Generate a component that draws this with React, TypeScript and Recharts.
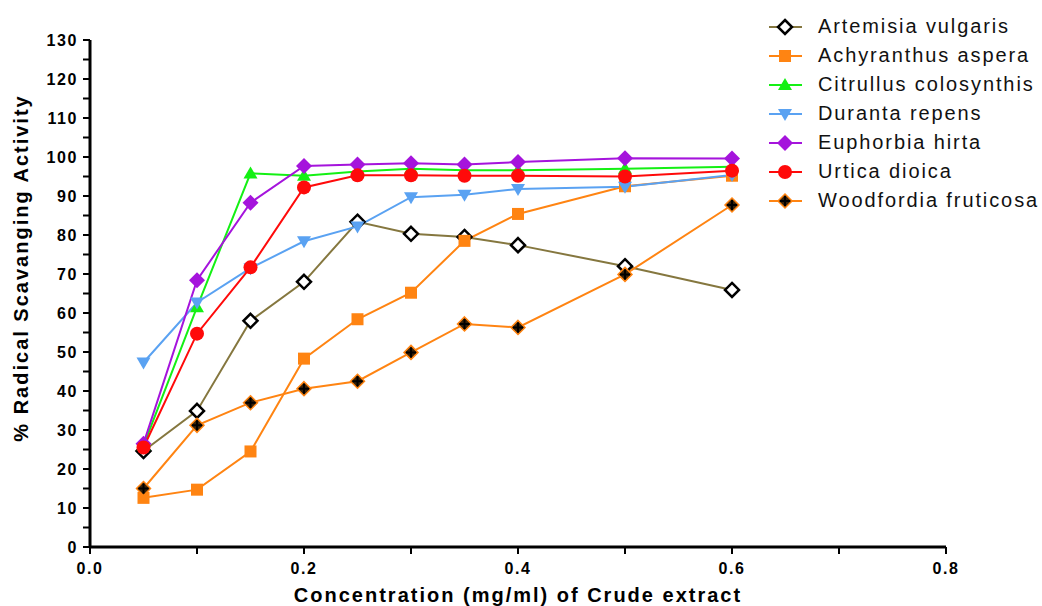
import React from 'react'
import { LineChart, Line, XAxis, YAxis, Legend, Label } from 'recharts'

const concentrations = [0.05, 0.1, 0.15, 0.2, 0.25, 0.3, 0.35, 0.4, 0.5, 0.6]

const artemisia = [24.6, 34.9, 58, 68, 83.4, 80.3, 79.5, 77.4, 72, 65.9]
const achyranthus = [12.6, 14.7, 24.5, 48.3, 58.4, 65.2, 78.5, 85.4, 92.5, 95.2]
const citrullus = [26, 61.5, 95.8, 95.2, 96.3, 97, 96.6, 96.6, 97, 97.5]
const duranta = [47.3, 62.7, 71.5, 78.4, 82.2, 89.7, 90.3, 91.8, 92.4, 95.4]
const euphorbia = [26.5, 68.4, 88.3, 97.7, 98.1, 98.4, 98.1, 98.7, 99.7, 99.6]
const urtica = [25.5, 54.7, 71.7, 92.2, 95.3, 95.3, 95.2, 95.2, 95.0, 96.5]
const woodfordia = [15, 31.2, 37, 40.6, 42.5, 49.9, 57.2, 56.3, 69.9, 87.7]

const xTicks = [0, 0.1, 0.2, 0.3, 0.4, 0.5, 0.6, 0.7, 0.8]
const yTicks = [0, 5, 10, 15, 20, 25, 30, 35, 40, 45, 50, 55, 60, 65, 70, 75, 80, 85, 90, 95, 100, 105, 110, 115, 120, 125, 130]

type Kind = 'hollowDiamond' | 'square' | 'triUp' | 'triDown' | 'diamond' | 'circle' | 'crossDiamond'

const series: { key: string; name: string; color: string; kind: Kind; values: number[] }[] = [
  { key: 'a', name: 'Artemisia vulgaris', color: '#85773f', kind: 'hollowDiamond', values: artemisia },
  { key: 'b', name: 'Achyranthus aspera', color: '#ff8412', kind: 'square', values: achyranthus },
  { key: 'c', name: 'Citrullus colosynthis', color: '#14f014', kind: 'triUp', values: citrullus },
  { key: 'd', name: 'Duranta repens', color: '#5aa2f2', kind: 'triDown', values: duranta },
  { key: 'e', name: 'Euphorbia hirta', color: '#a514dc', kind: 'diamond', values: euphorbia },
  { key: 'f', name: 'Urtica dioica', color: '#ff0a0a', kind: 'circle', values: urtica },
  { key: 'g', name: 'Woodfordia fruticosa', color: '#ff8412', kind: 'crossDiamond', values: woodfordia },
]

const data = concentrations.map((x, i) => {
  const row: Record<string, number> = { x }
  series.forEach(s => { row[s.key] = s.values[i] })
  return row
})

function Marker({ kind, cx, cy, color }: { kind: Kind; cx: number; cy: number; color: string }) {
  switch (kind) {
    case 'hollowDiamond':
      return <path d={`M${cx},${cy - 7} L${cx + 7},${cy} L${cx},${cy + 7} L${cx - 7},${cy} Z`} fill="#fff" stroke="#000" strokeWidth={2.5} />
    case 'square':
      return <rect x={cx - 6} y={cy - 6} width={12} height={12} fill={color} />
    case 'triUp':
      return <path d={`M${cx},${cy - 7} L${cx + 7},${cy + 5} L${cx - 7},${cy + 5} Z`} fill={color} />
    case 'triDown':
      return <path d={`M${cx},${cy + 7} L${cx + 7},${cy - 5} L${cx - 7},${cy - 5} Z`} fill={color} />
    case 'diamond':
      return <path d={`M${cx},${cy - 8} L${cx + 8},${cy} L${cx},${cy + 8} L${cx - 8},${cy} Z`} fill={color} />
    case 'circle':
      return <circle cx={cx} cy={cy} r={7} fill={color} />
    case 'crossDiamond':
      return (
        <g>
          <path d={`M${cx},${cy - 7} L${cx + 7},${cy} L${cx},${cy + 7} L${cx - 7},${cy} Z`} fill="#3a2208" stroke={color} strokeWidth={1.5} />
          <path d={`M${cx - 5},${cy} L${cx + 5},${cy} M${cx},${cy - 5} L${cx},${cy + 5}`} stroke="#000" strokeWidth={2} />
        </g>
      )
  }
  return null
}

const font = 'Liberation Sans, Arial, sans-serif'
const tickStyle = { fontFamily: font, fontWeight: 700, fontSize: 16, fill: '#000', letterSpacing: 1.6 }
const titleStyle = { fontFamily: font, fontWeight: 700, fontSize: 20, fill: '#000', letterSpacing: 2 }

const LegendBox = () => (
  <div style={{ fontFamily: font, fontSize: 20, letterSpacing: 1.9, color: '#111' }}>
    {series.map(s => (
      <div key={s.key} style={{ display: 'flex', alignItems: 'center', height: 29 }}>
        <svg width={50} height={20}>
          <line x1={1} y1={10} x2={34} y2={10} stroke={s.color} strokeWidth={2} />
          <Marker kind={s.kind} cx={17} cy={10} color={s.color} />
        </svg>
        <span style={{ whiteSpace: 'nowrap' }}>{s.name}</span>
      </div>
    ))}
  </div>
)

const YTitle = () => (
  <text transform="translate(21,268) rotate(-90)" textAnchor="middle" dominantBaseline="central" style={titleStyle}>
    % Radical Scavanging Activity
  </text>
)

export default function App() {
  return (
    <div style={{ position: 'absolute', left: 0, top: 0, background: '#fff' }}>
      <LineChart width={1042} height={606} data={data} margin={{ top: 40, right: 96, bottom: 0, left: 0 }}>
        <XAxis
          dataKey="x"
          type="number"
          domain={[0, 0.8]}
          ticks={xTicks}
          tickFormatter={(v: number) => (Math.round(v * 10) % 2 === 0 ? v.toFixed(1) : '')}
          tick={tickStyle}
          tickSize={7}
          tickMargin={9}
          axisLine={{ stroke: '#000', strokeWidth: 3 }}
          tickLine={{ stroke: '#000', strokeWidth: 2 }}
          height={59}
          allowDataOverflow
        >
          <Label value="Concentration (mg/ml) of Crude extract" position="insideBottom" offset={4} style={titleStyle} />
        </XAxis>
        <YAxis
          type="number"
          domain={[0, 130]}
          ticks={yTicks}
          interval={0}
          tickFormatter={(v: number) => (v % 10 === 0 ? String(v) : '')}
          tick={tickStyle}
          tickSize={7}
          tickMargin={5}
          axisLine={{ stroke: '#000', strokeWidth: 3 }}
          tickLine={{ stroke: '#000', strokeWidth: 2 }}
          width={90}
        >
          <Label content={() => <YTitle />} />
        </YAxis>
        <Legend
          layout="vertical"
          align="center"
          verticalAlign="middle"
          content={() => <LegendBox />}
          wrapperStyle={{ left: 768, top: 12, width: 274, height: 210 }}
        />
        {series.map(s => (
          <Line
            key={s.key}
            dataKey={s.key}
            name={s.name}
            stroke={s.color}
            strokeWidth={2}
            isAnimationActive={false}
            dot={(p: any) => <Marker key={`${s.key}-${p.index}`} kind={s.kind} cx={p.cx} cy={p.cy} color={s.color} />}
            activeDot={false}
          />
        ))}
      </LineChart>
    </div>
  )
}
